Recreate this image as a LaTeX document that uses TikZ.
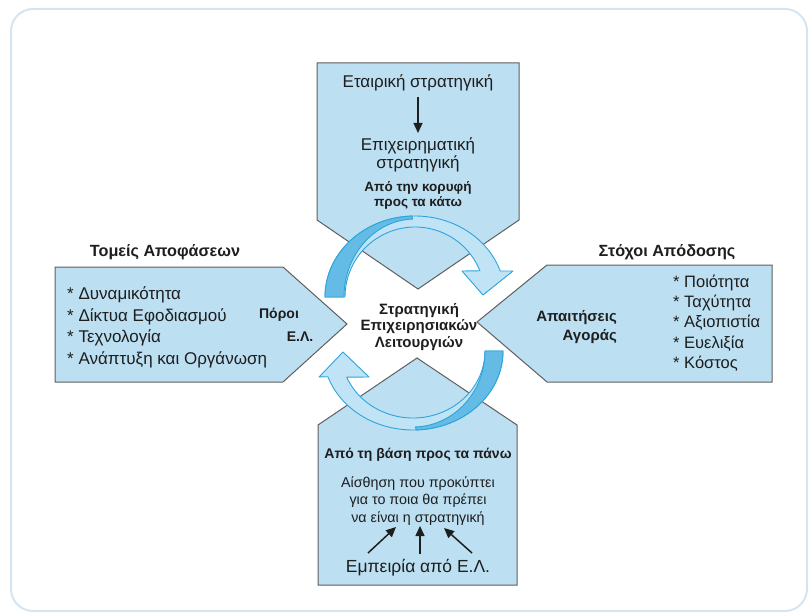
\documentclass[tikz,border=0pt]{standalone}
\usepackage{fontspec}
\setmainfont{Liberation Sans}
\usetikzlibrary{arrows.meta,calc}
\definecolor{boxfill}{RGB}{188,223,242}
\definecolor{boxline}{RGB}{95,95,95}
\definecolor{bandlight}{RGB}{192,228,246}
\definecolor{banddark}{RGB}{100,188,230}
\definecolor{bandedge}{RGB}{45,165,220}
\definecolor{frameline}{RGB}{212,229,241}
\definecolor{ink}{RGB}{30,30,30}

\begin{document}
\begin{tikzpicture}[x=1pt,y=-1pt,
  panel/.style={fill=boxfill,draw=boxline,line width=1pt,line join=miter},
  body/.style={font=\fontsize{17}{19}\selectfont,text=ink,inner sep=0pt},
  head/.style={font=\fontsize{13.5}{15}\selectfont\bfseries,text=ink,inner sep=0pt},
  band/.style={fill=bandlight,draw=bandedge,line width=0.9pt,line join=round},
  bandfront/.style={fill=banddark,draw=bandedge,line width=0.9pt,line join=round},
  pointer/.style={-{Triangle[length=10pt,width=9pt]},line width=1.5pt,draw=ink}]

\useasboundingbox (0,0) rectangle (809,615);
\draw[frameline,line width=2pt,rounded corners=22pt] (11,9) rectangle (807,611);

% the four chevron panels
\draw[panel] (317,63) -- (519,63) -- (519,220) -- (418,289) -- (317,220) -- cycle;
\draw[panel] (55,267) -- (283,267) -- (347,324) -- (283,382) -- (55,382) -- cycle;
\draw[panel] (772,265) -- (547,265) -- (477,322) -- (547,382) -- (772,382) -- cycle;
\draw[panel] (318,585) -- (517,585) -- (517,425) -- (417,358) -- (318,425) -- cycle;

% top-down curved arrow
\coordinate (c1) at (415,297);
\filldraw[band] ($(c1)+(180:90 and 81)$)
  arc[start angle=180,end angle=341.3,x radius=90,y radius=81]
  -- (513,271) -- (483,295) -- (462,271)
  -- ($(c1)+(338:70 and 70)$)
  arc[start angle=338,end angle=180,x radius=70,y radius=70] -- cycle;
\filldraw[bandfront] ($(c1)+(180:90 and 81)$)
  arc[start angle=180,end angle=268,x radius=90,y radius=81]
  -- ($(c1)+(268:71 and 78)$)
  arc[start angle=268,end angle=180,x radius=71,y radius=78] -- cycle;

% bottom-up curved arrow
\coordinate (c2) at (413,351);
\filldraw[band] ($(c2)+(0:90 and 79)$)
  arc[start angle=0,end angle=161,x radius=90,y radius=79]
  -- (319,377) -- (343,352) -- (369,377)
  -- ($(c2)+(157:72 and 67)$)
  arc[start angle=157,end angle=0,x radius=72,y radius=67] -- cycle;
\filldraw[bandfront] ($(c2)+(0:90 and 79)$)
  arc[start angle=0,end angle=88,x radius=90,y radius=79]
  -- ($(c2)+(88:72 and 76)$)
  arc[start angle=88,end angle=0,x radius=72,y radius=76] -- cycle;

% top panel
\node[body] (corp) at (418,83) {Εταιρική στρατηγική};
\node[body,align=center,font=\fontsize{17}{15.5}\selectfont] (biz) at (418,155) {Επιχειρηματική\\στρατηγική};
\draw[pointer,shorten <=6pt,shorten >=5pt] (corp) -- (biz);
\node[head,align=center] (topdown) at (418,195) {Από την κορυφή\\προς τα κάτω};

% left panel
\node[head,font=\fontsize{16.2}{18}\selectfont\bfseries] (secttitle) at (165,252) {Τομείς Αποφάσεων};
\node[body,align=left,anchor=west,font=\fontsize{17}{21.7}\selectfont] (sectlist) at (67,327.5)
  {* Δυναμικότητα\\* Δίκτυα Εφοδιασμού\\* Τεχνολογία\\* Ανάπτυξη και Οργάνωση};
\node[head,font=\fontsize{14}{16}\selectfont\bfseries] (res1) at (279,315) {Πόροι};
\node[head,font=\fontsize{14}{16}\selectfont\bfseries] (res2) at (300,337) {Ε.Λ.};

% right panel
\node[head,font=\fontsize{16.2}{18}\selectfont\bfseries] (goaltitle) at (667,252) {Στόχοι Απόδοσης};
\node[body,align=left,anchor=west,font=\fontsize{16.5}{20.3}\selectfont] (goallist) at (673,323)
  {* Ποιότητα\\* Ταχύτητα\\* Αξιοπιστία\\* Ευελιξία\\* Κόστος};
\node[head,align=right,anchor=east,font=\fontsize{15}{19}\selectfont\bfseries] (market) at (617,327.5) {Απαιτήσεις\\Αγοράς};

% centre label
\node[head,align=center,font=\fontsize{15}{16.5}\selectfont\bfseries] (core) at (419,327)
  {Στρατηγική\\Επιχειρησιακών\\Λειτουργιών};

% bottom panel
\node[head,font=\fontsize{14}{16}\selectfont\bfseries] (bottomup) at (418,455) {Από τη βάση προς τα πάνω};
\node[body,align=center,font=\fontsize{14.3}{17.5}\selectfont] (sense) at (418,501)
  {Αίσθηση που προκύπτει\\για το ποια θα πρέπει\\να είναι η στρατηγική};
\node[body,font=\fontsize{17.5}{19}\selectfont] (exp) at (418,568) {Εμπειρία από Ε.Λ.};
\coordinate (s1) at (368,553);
\coordinate (s2) at (420,554);
\coordinate (s3) at (472,553);
\coordinate (t1) at (396,527);
\coordinate (t2) at (420,526);
\coordinate (t3) at (444,528);
\draw[pointer] (s1) -- (t1);
\draw[pointer] (s2) -- (t2);
\draw[pointer] (s3) -- (t3);
\end{tikzpicture}
\end{document}
